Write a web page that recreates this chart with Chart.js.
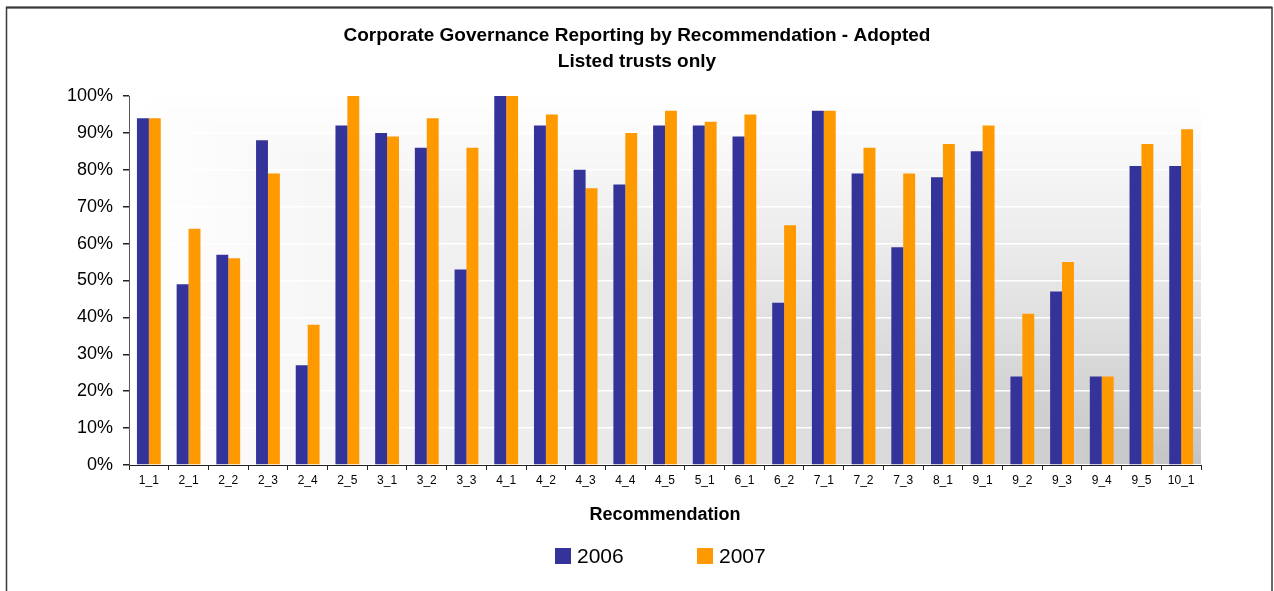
<!DOCTYPE html>
<html>
<head>
<meta charset="utf-8">
<script src="https://cdn.jsdelivr.net/npm/chart.js@4/dist/chart.umd.min.js"></script>
<style>
  html, body { margin: 0; padding: 0; background: #ffffff; }
  #wrap { position: relative; width: 1274px; height: 591px; }
</style>
</head>
<body>
<div id="wrap"><canvas id="c" width="1274" height="591"></canvas></div>
<script>
// ---- data ----
const categories = ["1_1","2_1","2_2","2_3","2_4","2_5","3_1","3_2","3_3","4_1","4_2","4_3","4_4","4_5","5_1","6_1","6_2","7_1","7_2","7_3","8_1","9_1","9_2","9_3","9_4","9_5","10_1"];
const values2006 = [94,49,57,88,27,92,90,86,53,100,92,80,76,92,92,89,44,96,79,59,78,85,24,47,24,81,81];
const values2007 = [94,64,56,79,38,100,89,94,86,100,95,75,90,96,93,95,65,96,86,79,87,92,41,55,24,87,91];
const seriesNames = ["2006","2007"];
const seriesColors = ["#333399","#FF9900"];
const yTicks = [0,10,20,30,40,50,60,70,80,90,100];
const titleLines = ["Corporate Governance Reporting by Recommendation - Adopted","Listed trusts only"];
const xAxisTitle = "Recommendation";

const FONT = "'Liberation Sans', Arial, sans-serif";

// chart-area background: rectangular gradient from the top-left towards the bottom-right corner
const bgPlugin = {
  id: 'bg',
  beforeDraw(chart) {
    const {ctx, chartArea: a} = chart;
    const w = a.right - a.left, h = a.bottom - a.top;
    ctx.save();
    const N = 120;
    for (let i = N; i >= 1; i--) {
      const s = i / N;
      const v = Math.round(192 + 63 * Math.pow(s, 0.75));
      ctx.fillStyle = `rgb(${v},${v},${v})`;
      ctx.fillRect(a.right - w * s, a.bottom - h * s, w * s, h * s);
    }
    ctx.restore();
  },
  afterDraw(chart) {
    const ctx = chart.ctx;
    ctx.save();
    // outer frame
    ctx.strokeStyle = '#3a3a3a';
    ctx.lineWidth = 1.5;
    ctx.strokeRect(6.5, 7.5, 1265.5, 700);
    ctx.lineWidth = 2;
    ctx.beginPath(); ctx.moveTo(6, 7.5); ctx.lineTo(1272, 7.5); ctx.stroke();
    // legend
    ctx.font = `21px ${FONT}`;
    ctx.textBaseline = 'middle';
    ctx.textAlign = 'left';
    const starts = [555, 697];
    const cy = 556;
    chart.data.datasets.forEach((ds, i) => {
      const x = starts[i];
      ctx.fillStyle = ds.backgroundColor;
      ctx.fillRect(x, cy - 8, 16, 16);
      ctx.fillStyle = '#000';
      ctx.fillText(ds.label, x + 22, cy + 1);
    });
    ctx.restore();
  }
};

new Chart(document.getElementById('c'), {
  type: 'bar',
  data: {
    labels: categories,
    datasets: [
      { label: seriesNames[0], data: values2006, backgroundColor: seriesColors[0], borderWidth: 0, yAxisID: 'y' },
      { label: seriesNames[1], data: values2007, backgroundColor: seriesColors[1], borderWidth: 0, yAxisID: 'y' }
    ]
  },
  options: {
    responsive: false,
    animation: false,
    devicePixelRatio: 1,
    layout: { padding: { left: 0, right: 0, top: 0, bottom: 55 } },
    datasets: { bar: { categoryPercentage: 0.6, barPercentage: 1.0 } },
    plugins: {
      legend: { display: false },
      tooltip: { enabled: false },
      title: {
        display: true,
        text: titleLines,
        color: '#000',
        font: { family: FONT, size: 19, weight: 'bold', lineHeight: 26/19 },
        padding: { top: 23, bottom: 21 }
      }
    },
    scales: {
      x: {
        grid: { display: true, offset: true, drawOnChartArea: false, drawTicks: true, tickLength: 5, tickColor: '#222', color: '#222' },
        border: { display: true, color: '#222', width: 1 },
        ticks: { color: '#000', font: { family: FONT, size: 12 }, padding: 3, maxRotation: 0, autoSkip: false },
        title: { display: true, text: xAxisTitle, color: '#000', font: { family: FONT, size: 18, weight: 'bold' }, padding: { top: 4, bottom: 10 } },
        afterFit(scale) { scale.height = 71; }
      },
      y: {
        min: 0, max: 100,
        afterBuildTicks(scale) { scale.ticks = yTicks.map(v => ({ value: v })); },
        grid: { color: '#ffffff', lineWidth: 1.5, drawTicks: true, tickLength: 6, tickColor: '#222' },
        border: { display: true, color: '#555', width: 1 },
        ticks: { color: '#000', font: { family: FONT, size: 18 }, padding: 10, callback: v => v + '%' },
        afterFit(scale) { scale.width = 129; }
      },
      yRight: {
        type: 'linear',
        position: 'right',
        display: true,
        grid: { display: false, drawTicks: false },
        border: { display: false },
        ticks: { display: false },
        afterFit(scale) { scale.width = 73; }
      }
    }
  },
  plugins: [bgPlugin]
});
</script>
</body>
</html>
